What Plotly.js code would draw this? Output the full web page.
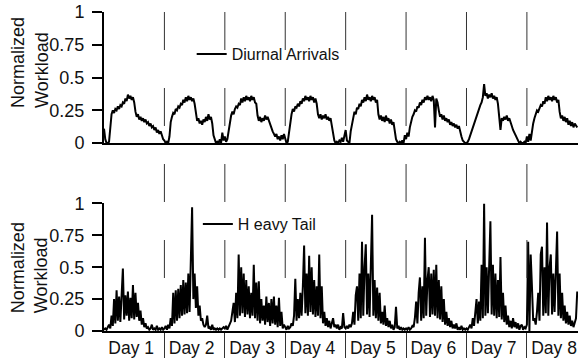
<!DOCTYPE html>
<html>
<head>
<meta charset="utf-8">
<script src="https://cdn.plot.ly/plotly-3.0.1.min.js"></script>
<style>html,body{margin:0;padding:0;background:#fff;}#chart{width:579px;height:358px;}</style>
</head>
<body>
<div id="chart"></div>
<script>
// ---- data (half-hourly samples) ----
const dayLabels = ['Day 1','Day 2','Day 3','Day 4','Day 5','Day 6','Day 7','Day 8'];
const sampleHours = 0.5;
const diurnalName = 'Diurnal Arrivals';
const heavyName = 'H eavy Tail';

const diurnal = [
  0.11,0.03,0.00,0.00,0.01,0.12,0.22,0.25,0.23,0.26,0.25,0.28,0.26,0.29,0.28,0.31,0.30,0.34,0.32,0.37,0.34,0.36,0.33,0.35,0.31,0.24,0.20,0.22,0.18,0.20,0.17,0.19,0.16,0.18,0.15,0.16,0.13,0.15,0.12,0.13,0.10,0.12,0.08,0.10,0.07,0.09,0.06,0.03,
  0.02,0.00,0.01,0.00,0.05,0.16,0.20,0.23,0.22,0.26,0.25,0.28,0.27,0.30,0.29,0.33,0.31,0.35,0.32,0.36,0.33,0.35,0.32,0.34,0.30,0.21,0.17,0.19,0.15,0.17,0.14,0.18,0.16,0.20,0.17,0.22,0.18,0.20,0.15,0.06,0.02,0.00,0.01,0.00,0.03,0.00,0.08,0.02,
  0.05,0.01,0.03,0.10,0.18,0.21,0.24,0.22,0.26,0.28,0.27,0.30,0.29,0.34,0.31,0.35,0.32,0.36,0.33,0.35,0.32,0.36,0.33,0.35,0.31,0.30,0.21,0.17,0.20,0.16,0.19,0.17,0.21,0.18,0.20,0.17,0.15,0.11,0.09,0.07,0.05,0.07,0.03,0.05,0.02,0.06,0.03,0.07,
  0.02,0.00,0.01,0.08,0.18,0.22,0.26,0.24,0.28,0.27,0.30,0.28,0.32,0.30,0.34,0.32,0.36,0.33,0.35,0.32,0.36,0.33,0.35,0.31,0.34,0.30,0.22,0.19,0.22,0.18,0.21,0.19,0.22,0.18,0.20,0.17,0.19,0.12,0.05,0.02,0.00,0.01,0.00,0.02,0.01,0.04,0.01,0.05,
  0.10,0.02,0.01,0.00,0.09,0.14,0.20,0.24,0.22,0.27,0.26,0.30,0.28,0.33,0.31,0.35,0.32,0.37,0.33,0.35,0.32,0.36,0.33,0.35,0.31,0.33,0.22,0.18,0.21,0.17,0.20,0.16,0.21,0.17,0.19,0.15,0.18,0.14,0.16,0.08,0.03,0.01,0.00,0.01,0.00,0.02,0.00,0.06,
  0.03,0.08,0.05,0.12,0.17,0.20,0.22,0.25,0.24,0.28,0.27,0.31,0.29,0.33,0.31,0.35,0.33,0.36,0.33,0.35,0.32,0.36,0.33,0.12,0.34,0.31,0.25,0.20,0.22,0.18,0.21,0.17,0.19,0.16,0.18,0.14,0.16,0.13,0.15,0.12,0.14,0.11,0.13,0.08,0.05,0.02,0.01,0.00,
  0.00,0.01,0.03,0.06,0.09,0.12,0.15,0.18,0.21,0.24,0.26,0.29,0.31,0.35,0.45,0.36,0.38,0.34,0.37,0.35,0.38,0.34,0.36,0.33,0.35,0.30,0.20,0.10,0.19,0.17,0.20,0.18,0.21,0.17,0.19,0.15,0.13,0.10,0.08,0.06,0.04,0.02,0.00,0.01,0.00,0.00,0.01,0.00,
  0.05,0.01,0.07,0.02,0.10,0.15,0.19,0.22,0.25,0.24,0.27,0.29,0.28,0.32,0.30,0.35,0.32,0.36,0.33,0.35,0.32,0.36,0.33,0.35,0.31,0.33,0.24,0.19,0.21,0.17,0.20,0.16,0.19,0.14,0.17,0.13,0.16,0.12,0.15,0.13,0.12
];

const heavyTail = [
  0.01,0.02,0.01,0.03,0.05,0.02,0.12,0.04,0.25,0.06,0.32,0.08,0.27,0.07,0.30,0.49,0.09,0.28,0.12,0.31,0.08,0.26,0.10,0.36,0.09,0.30,0.11,0.22,0.08,0.16,0.05,0.10,0.03,0.06,0.02,0.03,0.01,0.02,0.05,0.01,0.02,0.01,0.04,0.01,0.02,0.01,0.03,0.01,
  0.02,0.04,0.01,0.05,0.02,0.10,0.04,0.30,0.06,0.32,0.08,0.33,0.10,0.36,0.12,0.40,0.13,0.38,0.14,0.45,0.15,0.55,0.97,0.25,0.45,0.18,0.35,0.12,0.20,0.08,0.10,0.05,0.03,0.05,0.12,0.02,0.03,0.01,0.05,0.01,0.02,0.01,0.02,0.01,0.02,0.01,0.02,0.03,
  0.02,0.04,0.01,0.03,0.05,0.08,0.15,0.22,0.07,0.30,0.10,0.60,0.12,0.50,0.14,0.45,0.11,0.40,0.13,0.35,0.10,0.30,0.12,0.52,0.10,0.38,0.08,0.39,0.06,0.25,0.08,0.20,0.05,0.27,0.07,0.22,0.04,0.25,0.06,0.27,0.05,0.20,0.03,0.26,0.04,0.15,0.02,0.05,
  0.03,0.01,0.04,0.02,0.03,0.06,0.04,0.12,0.41,0.08,0.25,0.10,0.30,0.12,0.35,0.67,0.14,0.45,0.12,0.59,0.15,0.50,0.13,0.40,0.11,0.35,0.12,0.60,0.10,0.35,0.06,0.15,0.04,0.10,0.03,0.08,0.02,0.06,0.10,0.03,0.05,0.02,0.05,0.01,0.03,0.02,0.14,0.03,
  0.02,0.04,0.02,0.05,0.03,0.06,0.15,0.05,0.28,0.35,0.08,0.45,0.10,0.70,0.12,0.50,0.68,0.13,0.45,0.11,0.55,0.91,0.12,0.40,0.10,0.34,0.08,0.30,0.06,0.15,0.05,0.20,0.04,0.10,0.03,0.08,0.02,0.05,0.01,0.03,0.19,0.02,0.04,0.01,0.03,0.01,0.02,0.01,
  0.02,0.01,0.03,0.01,0.02,0.04,0.03,0.10,0.23,0.06,0.30,0.42,0.08,0.35,0.10,0.73,0.12,0.40,0.50,0.11,0.45,0.13,0.48,0.12,0.52,0.10,0.40,0.09,0.35,0.07,0.25,0.05,0.15,0.04,0.10,0.03,0.08,0.02,0.05,0.02,0.06,0.01,0.03,0.01,0.04,0.01,0.02,0.01,
  0.02,0.01,0.03,0.05,0.02,0.10,0.04,0.18,0.25,0.06,0.23,0.08,0.52,0.10,1.00,0.12,0.50,0.14,0.60,0.86,0.13,0.52,0.12,0.45,0.10,0.40,0.11,0.58,0.09,0.30,0.07,0.20,0.05,0.12,0.03,0.08,0.02,0.10,0.03,0.07,0.02,0.06,0.01,0.04,0.05,0.01,0.03,0.02,
  0.05,0.70,0.00,0.60,0.35,0.08,0.10,0.05,0.15,0.30,0.08,0.60,0.66,0.12,0.50,0.14,0.85,0.12,0.50,0.60,0.13,0.45,0.15,0.40,0.78,0.12,0.45,0.10,0.30,0.08,0.20,0.06,0.15,0.05,0.12,0.04,0.08,0.03,0.06,0.10,0.31
];

const yTickVals = [0, 0.25, 0.5, 0.75, 1];
const yTickText = ['0', '0.25', '0.5', '0.75', '1'];
const yTitle = 'Normalized<br>Workload';

// ---- derived ----
const hoursPerDay = 24;
const hoursD = diurnal.map((_, i) => i * sampleHours);
const hoursH = heavyTail.map((_, i) => i * sampleHours);
const xRange = [0, 188.3];
const dayBounds = dayLabels.slice(1).map((_, i) => (i + 1) * hoursPerDay);
const labelPos = dayLabels.map((_, i) => i * hoursPerDay + 10.8);

const FONT = 'Liberation Sans, Arial, Helvetica, sans-serif';
const INK = '#111';

const traces = [
  {x: hoursD, y: diurnal, name: diurnalName, type: 'scatter', mode: 'lines',
   line: {color: '#000', width: 2}, xaxis: 'x', yaxis: 'y', legend: 'legend', hoverinfo: 'skip'},
  {x: hoursH, y: heavyTail, name: heavyName, type: 'scatter', mode: 'lines',
   line: {color: '#000', width: 2}, xaxis: 'x2', yaxis: 'y2', legend: 'legend2', hoverinfo: 'skip'}
];

const yAxisBase = {
  range: [0, 1], tickmode: 'array', tickvals: yTickVals, ticktext: yTickText,
  showline: true, linecolor: '#000', linewidth: 2, ticks: 'outside', ticklen: 10, tickwidth: 2,
  tickcolor: '#000', showgrid: false, zeroline: false, fixedrange: true,
  tickfont: {family: FONT, size: 18, color: INK}, ticklabelstandoff: 4
};
const xAxisBase = {
  range: xRange, showline: true, linecolor: '#000', linewidth: 2, showgrid: false,
  zeroline: false, fixedrange: true
};

const shapes = dayBounds.map(b => ({
  type: 'line', xref: 'x', yref: 'paper', x0: b, x1: b, y0: 1, y1: 0.16,
  line: {color: '#333', width: 1, dash: '38px,38px'}, layer: 'above'
}));

const layout = {
  width: 579, height: 358,
  margin: {l: 104, r: 1, t: 12, b: 27, pad: 0},
  paper_bgcolor: '#fff', plot_bgcolor: '#fff',
  font: {family: FONT, color: INK},
  showlegend: true,
  xaxis: Object.assign({}, xAxisBase, {anchor: 'y', showticklabels: false, ticks: ''}),
  yaxis: Object.assign({}, yAxisBase, {domain: [0.589, 1], anchor: 'x'}),
  xaxis2: Object.assign({}, xAxisBase, {
    anchor: 'y2', tickmode: 'array', tickvals: labelPos, ticktext: dayLabels, ticks: '',
    tickfont: {family: FONT, size: 17.5, color: INK},
    minor: {tickmode: 'array', tickvals: dayBounds, ticks: 'outside', ticklen: 27, tickwidth: 1, tickcolor: '#333'}
  }),
  yaxis2: Object.assign({}, yAxisBase, {domain: [0, 0.4], anchor: 'x2'}),
  legend: {x: 0.185, y: 0.868, xanchor: 'left', yanchor: 'middle', bgcolor: 'rgba(0,0,0,0)',
           borderwidth: 0, font: {family: FONT, size: 16, color: INK}, itemwidth: 30},
  legend2: {x: 0.198, y: 0.335, xanchor: 'left', yanchor: 'middle', bgcolor: 'rgba(0,0,0,0)',
            borderwidth: 0, font: {family: FONT, size: 16, color: INK}, itemwidth: 30},
  shapes: shapes,
  annotations: [
    {text: yTitle, xref: 'paper', yref: 'paper', x: -0.157, y: 0.693, xanchor: 'center', yanchor: 'bottom',
     textangle: -90, align: 'left', showarrow: false, font: {family: FONT, size: 18, color: INK}},
    {text: yTitle, xref: 'paper', yref: 'paper', x: -0.157, y: 0.050, xanchor: 'center', yanchor: 'bottom',
     textangle: -90, align: 'left', showarrow: false, font: {family: FONT, size: 18, color: INK}}
  ]
};

Plotly.newPlot('chart', traces, layout, {staticPlot: true, displayModeBar: false});
</script>
</body>
</html>
